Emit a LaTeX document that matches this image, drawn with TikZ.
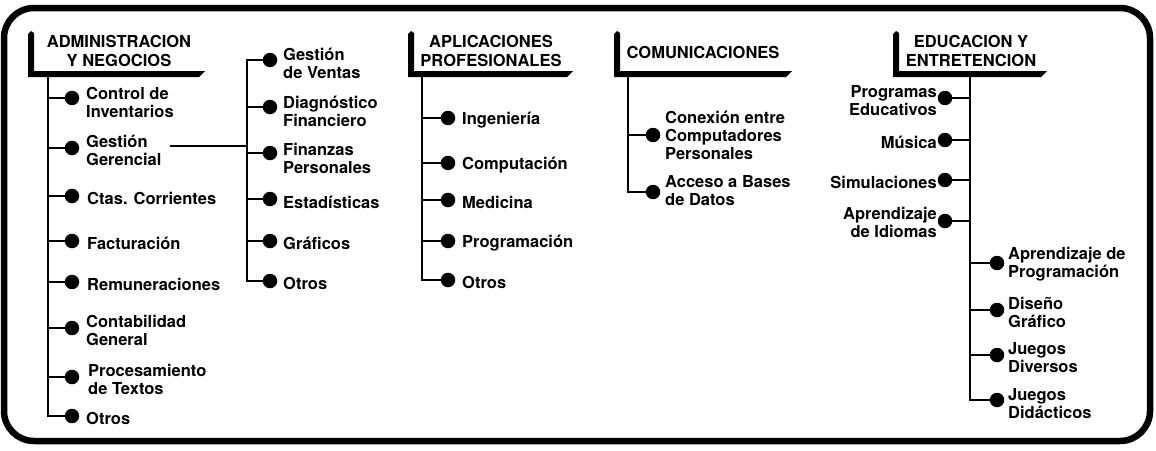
\documentclass[tikz,border=0pt]{standalone}
\usepackage{fontspec}
\setmainfont{TeX Gyre Heros}
\newcommand\itemfnt{\fontsize{16.5}{18}\selectfont\bfseries}
\newcommand\hdrfnt{\fontsize{16.5}{19.5}\selectfont\bfseries}
\begin{document}
\begin{tikzpicture}[x=1pt,y=-1pt,
  conn/.style={line width=2.6pt},
  thinconn/.style={line width=1.8pt},
  dot/.style={circle,fill=black,inner sep=0pt,minimum size=14.5pt},
  lbl/.style={font=\itemfnt,inner sep=0pt,anchor=west,align=left},
  lblr/.style={font=\itemfnt,inner sep=0pt,anchor=east,align=right},
  hdr/.style={font=\hdrfnt,inner sep=0pt,align=center},
  bracket/.style={fill=black}]
\useasboundingbox (0,0) rectangle (1156,450);
% frame
\draw[line width=6.5pt,rounded corners=30pt] (4,8) rectangle (1150,441);

% header brackets
\fill[bracket] (28,77) -- (28,34) -- (31,31) -- (34,33) -- (34,71) -- (205,71) -- (199,77) -- cycle;
\fill[bracket] (408,77) -- (408,34) -- (411,31) -- (414,33) -- (414,71) -- (573,71) -- (567,77) -- cycle;
\fill[bracket] (614,77) -- (614,34) -- (617,31) -- (620,33) -- (620,71) -- (792,71) -- (786,77) -- cycle;
\fill[bracket] (893,77) -- (893,34) -- (896,31) -- (899,33) -- (899,71) -- (1047,71) -- (1041,77) -- cycle;

\node[hdr] (hA) at (119,51) {ADMINISTRACION\\Y NEGOCIOS};
\node[hdr] (hP) at (491,51) {APLICACIONES\\PROFESIONALES};
\node[hdr] (hC) at (703,52) {COMUNICACIONES};
\node[hdr] (hE) at (971,51) {EDUCACION Y\\ENTRETENCION};

% trunk tops
\coordinate (tA) at (48,77);
\coordinate (tG) at (247,77);
\coordinate (tP) at (422,77);
\coordinate (tC) at (628,77);
\coordinate (tE) at (970,77);

% ADMINISTRACION items
\node[dot] (a1d) at (72,98) {};
\node[dot] (a2d) at (72,148) {};
\node[dot] (a3d) at (72,196) {};
\node[dot] (a4d) at (72,241) {};
\node[dot] (a5d) at (72,282) {};
\node[dot] (a6d) at (72,328) {};
\node[dot] (a7d) at (72,377) {};
\node[dot] (a8d) at (72,416) {};
\node[lbl] (a1) at (86,102) {Control de\\Inventarios};
\node[lbl] (a2) at (86,150) {Gestión\\Gerencial};
\node[lbl] (a3) at (87,198) {Ctas. Corrientes};
\node[lbl] (a4) at (87,243) {Facturación};
\node[lbl] (a5) at (87,284) {Remuneraciones};
\node[lbl] (a6) at (86,330) {Contabilidad\\General};
\node[lbl] (a7) at (88,379) {Procesamiento\\de Textos};
\node[lbl] (a8) at (86,418) {Otros};
\draw[conn] (tA) |- (a8d);
\foreach \n in {a1d,a2d,a3d,a4d,a5d,a6d,a7d} \draw[conn] (\n) -- (\n -| tA);

% Gestion Gerencial sub-list
\node[dot] (g1d) at (270,60) {};
\node[dot] (g2d) at (270,107) {};
\node[dot] (g3d) at (270,153) {};
\node[dot] (g4d) at (270,199) {};
\node[dot] (g5d) at (270,241) {};
\node[dot] (g6d) at (270,281) {};
\node[lbl] (g1) at (283,63) {Gestión\\de Ventas};
\node[lbl] (g2) at (283,111) {Diagnóstico\\Financiero};
\node[lbl] (g3) at (283,158) {Finanzas\\Personales};
\node[lbl] (g4) at (283,202) {Estadísticas};
\node[lbl] (g5) at (283,243) {Gráficos};
\node[lbl] (g6) at (283,283) {Otros};
\draw[conn] (g1d) -- (g1d -| tG) |- (g6d);
\foreach \n in {g2d,g3d,g4d,g5d} \draw[conn] (\n) -- (\n -| tG);
\coordinate (gg) at (170,146);
\draw[thinconn] (gg) -- (gg -| tG);

% APLICACIONES items
\node[dot] (p1d) at (448,118) {};
\node[dot] (p2d) at (448,163) {};
\node[dot] (p3d) at (448,200) {};
\node[dot] (p4d) at (448,241) {};
\node[dot] (p5d) at (448,280) {};
\node[lbl] (p1) at (462,120) {Ingeniería};
\node[lbl] (p2) at (462,165) {Computación};
\node[lbl] (p3) at (462,202) {Medicina};
\node[lbl] (p4) at (462,243) {Programación};
\node[lbl] (p5) at (462,282) {Otros};
\draw[conn] (tP) |- (p5d);
\foreach \n in {p1d,p2d,p3d,p4d} \draw[conn] (\n) -- (\n -| tP);

% COMUNICACIONES items
\node[dot] (c1d) at (653,135) {};
\node[dot] (c2d) at (653,192) {};
\node[lbl] (c1) at (665,135) {Conexión entre\\Computadores\\Personales};
\node[lbl] (c2) at (665,191) {Acceso a Bases\\de Datos};
\draw[conn] (tC) |- (c2d);
\draw[conn] (c1d) -- (c1d -| tC);

% EDUCACION items
\node[dot] (e1d) at (945,98) {};
\node[dot] (e2d) at (945,140) {};
\node[dot] (e3d) at (945,180) {};
\node[dot] (e4d) at (945,221) {};
\node[dot] (e5d) at (997,263) {};
\node[dot] (e6d) at (997,310) {};
\node[dot] (e7d) at (997,355) {};
\node[dot] (e8d) at (997,400) {};
\node[lblr] (e1) at (937,101) {Programas\\Educativos};
\node[lblr] (e2) at (937,142) {Música};
\node[lblr] (e3) at (937,182) {Simulaciones};
\node[lblr] (e4) at (937,222) {Aprendizaje\\de Idiomas};
\node[lbl] (e5) at (1008,264) {Aprendizaje de\\Programación};
\node[lbl] (e6) at (1008,312) {Diseño\\Gráfico};
\node[lbl] (e7) at (1008,358) {Juegos\\Diversos};
\node[lbl] (e8) at (1008,404) {Juegos\\Didácticos};
\draw[conn] (tE) |- (e8d);
\foreach \n in {e1d,e2d,e3d,e4d,e5d,e6d,e7d} \draw[conn] (\n) -- (\n -| tE);
\end{tikzpicture}
\end{document}
